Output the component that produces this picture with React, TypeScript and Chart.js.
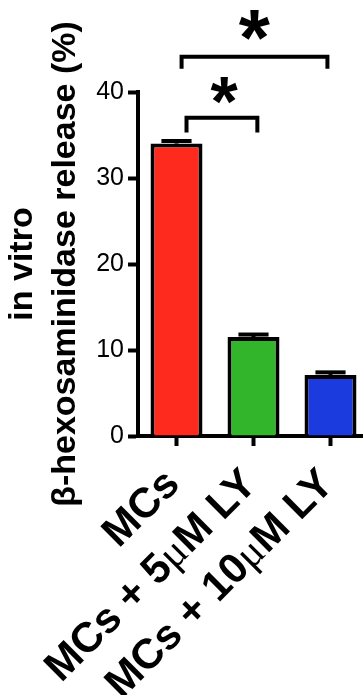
import React, { useEffect, useRef } from "react";
import { Chart, registerables } from "chart.js";

Chart.register(...registerables);

// ---- data ----
const categories = ["MCs", "MCs + 5μM LY", "MCs + 10μM LY"];
const releaseValues = [34.0, 11.5, 7.1];
const releaseErrors = [0.3, 0.3, 0.3];
const barColors = ["#FF2A1E", "#33B52B", "#1C3BDF"];
const yMin = 0;
const yMax = 40;
const yStep = 10;
const yTitleLines = ["in vitro", "β-hexosaminidase release (%)"];
// significance brackets (category index / value units)
const bracketFrom = [0.13, 0.066];
const bracketTo = [1.05, 1.96];
const bracketTop = [37.0, 44.1];
const bracketLeg = [35.3, 42.7];
const starX = [0.62, 1.01];
const starY = [40.2, 47.8];
const starLabels = ["*", "*"];

const FONT = "'Liberation Sans', Arial, Helvetica, sans-serif";
const LABEL_FONT = `bold 42px ${FONT}`;
const MU_FONT = `normal 42px 'Liberation Serif', 'DejaVu Serif', serif`;

const annotPlugin = {
  id: "annot",
  afterDatasetsDraw(chart: any) {
    const ctx = chart.ctx as CanvasRenderingContext2D;
    const xs = chart.scales.x;
    const ys = chart.scales.y;
    const meta = chart.getDatasetMeta(0);
    ctx.save();
    ctx.strokeStyle = "#000";
    ctx.fillStyle = "#000";
    ctx.lineWidth = 4;
    ctx.lineCap = "butt";
    ctx.lineJoin = "miter";
    // error bars (upper only)
    releaseValues.forEach((v, i) => {
      const px = xs.getPixelForValue(i);
      const base = ys.getPixelForValue(v);
      const top = ys.getPixelForValue(v + releaseErrors[i]);
      const half = (meta.data[i].width || 52) * 0.29;
      ctx.beginPath();
      ctx.moveTo(px, base);
      ctx.lineTo(px, top);
      ctx.stroke();
      ctx.beginPath();
      ctx.moveTo(px - half, top);
      ctx.lineTo(px + half, top);
      ctx.stroke();
    });
    // brackets
    bracketFrom.forEach((f, i) => {
      const x1 = xs.getPixelForValue(f);
      const x2 = xs.getPixelForValue(bracketTo[i]);
      const yt = ys.getPixelForValue(bracketTop[i]);
      const yl = ys.getPixelForValue(bracketLeg[i]);
      ctx.beginPath();
      ctx.moveTo(x1, yl);
      ctx.lineTo(x1, yt);
      ctx.lineTo(x2, yt);
      ctx.lineTo(x2, yl);
      ctx.stroke();
    });
    // stars
    const sizes = [70, 80];
    starLabels.forEach((s, i) => {
      ctx.font = `bold ${sizes[i]}px ${FONT}`;
      ctx.textAlign = "center";
      ctx.textBaseline = "alphabetic";
      const m = ctx.measureText(s);
      const cx = xs.getPixelForValue(starX[i]);
      const cy = ys.getPixelForValue(starY[i]);
      const A = m.actualBoundingBoxAscent;
      const D = m.actualBoundingBoxDescent;
      const baseline = cy - (D - A) / 2;
      ctx.fillText(s, cx, baseline);
    });
    ctx.restore();
  },
  afterDraw(chart: any) {
    // rotated category labels, with the micro sign in a light serif face
    const ctx = chart.ctx as CanvasRenderingContext2D;
    const xs = chart.scales.x;
    const bottom = chart.chartArea.bottom;
    ctx.save();
    ctx.fillStyle = "#000";
    categories.forEach((label, i) => {
      const parts = label.split("μ");
      const segs: { t: string; f: string; w: number }[] = [];
      parts.forEach((p, j) => {
        if (j > 0) segs.push({ t: "μ", f: MU_FONT, w: 0 });
        if (p) segs.push({ t: p, f: LABEL_FONT, w: 0 });
      });
      let total = 0;
      segs.forEach((s) => {
        ctx.font = s.f;
        s.w = ctx.measureText(s.t).width;
        total += s.w;
      });
      ctx.save();
      ctx.translate(xs.getPixelForValue(i) + 5, bottom + 50);
      ctx.rotate(-Math.PI / 4);
      ctx.textAlign = "left";
      ctx.textBaseline = "alphabetic";
      let x = -total;
      segs.forEach((s) => {
        ctx.font = s.f;
        ctx.fillText(s.t, x, 0);
        x += s.w;
      });
      ctx.restore();
    });
    ctx.restore();
  },
};

export default function App() {
  const ref = useRef<HTMLCanvasElement>(null);
  useEffect(() => {
    if (!ref.current) return;
    const chart = new Chart(ref.current, {
      type: "bar",
      data: {
        labels: categories,
        datasets: [
          {
            data: releaseValues,
            backgroundColor: barColors,
            borderColor: "#000",
            borderWidth: 4,
            barPercentage: 0.675,
            categoryPercentage: 1,
          },
        ],
      },
      options: {
        animation: false,
        responsive: false,
        devicePixelRatio: 1,
        layout: { padding: { top: 92, left: 0, right: 0, bottom: 0 } },
        plugins: { legend: { display: false }, tooltip: { enabled: false } },
        scales: {
          x: {
            type: "category",
            offset: true,
            grid: {
              offset: false,
              drawOnChartArea: false,
              drawTicks: true,
              tickLength: 10,
              tickWidth: 4,
              tickColor: "#000",
            },
            border: { display: true, color: "#000", width: 4 },
            ticks: {
              callback: () => "",
              maxRotation: 0,
              minRotation: 0,
              autoSkip: false,
            },
            afterFit(scale: any) {
              scale.height = 259;
              scale.paddingLeft = 0;
              scale.paddingRight = 0;
            },
          },
          y: {
            min: yMin,
            max: yMax,
            grid: {
              drawOnChartArea: false,
              drawTicks: true,
              tickLength: 10,
              tickWidth: 4,
              tickColor: "#000",
            },
            border: { display: true, color: "#000", width: 4 },
            ticks: {
              stepSize: yStep,
              color: "#000",
              font: { family: FONT, size: 25, weight: "normal" },
              padding: 4,
            },
            title: {
              display: true,
              text: yTitleLines,
              color: "#000",
              font: { family: FONT, size: 34, weight: "bold", lineHeight: "43px" },
              padding: { top: 1, bottom: 0 },
            },
            afterFit(scale: any) {
              scale.width = 138;
            },
          },
        },
      },
      plugins: [annotPlugin],
    } as any);
    return () => chart.destroy();
  }, []);
  return (
    <div
      style={{
        position: "fixed",
        left: 0,
        top: 0,
        width: 363,
        height: 695,
        overflow: "hidden",
        background: "#fff",
      }}
    >
      <canvas ref={ref} width={369} height={695} style={{ width: 369, height: 695, display: "block" }} />
    </div>
  );
}
